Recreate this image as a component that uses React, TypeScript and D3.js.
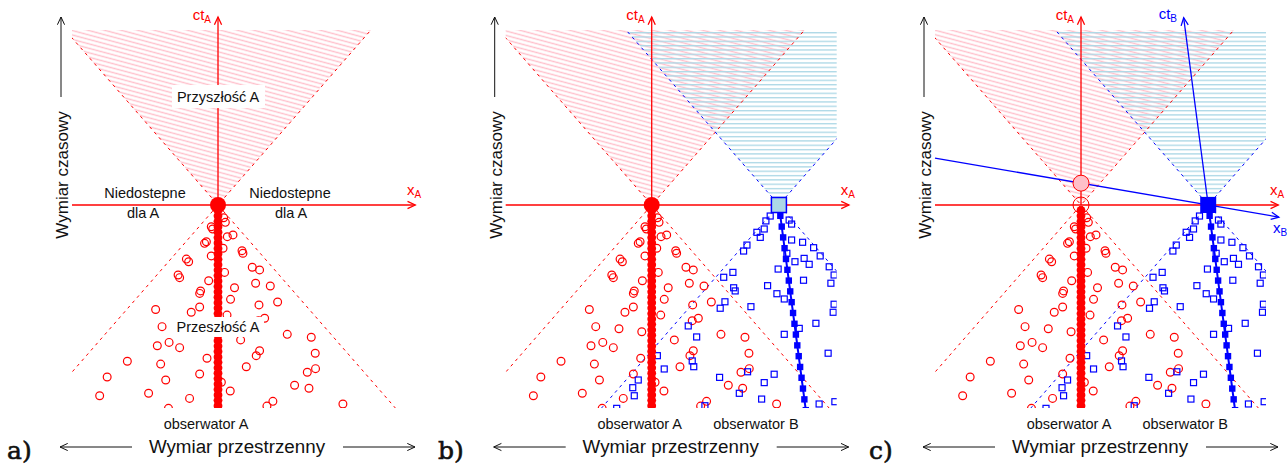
import * as d3 from 'd3'

// data space: x in light-units, t = c*t
const X_DOMAIN = [-0.955, 1.21]
const T_DOMAIN = [-1.16, 1]

// observer B: position at t=0 and velocity (units of c)
const B_X0 = 0.832
const B_V = -0.15
const A_TICK = 0.031
const B_TICK = 0.0617

// past events seen by A (open red circles)
const redX = [-0.044, -0.035, 0.037, 0.048, 0.061, 0.098, -0.088, -0.076, 0.033, -0.044, -0.207, -0.192, -0.261, -0.251, 0.043, -0.061, 0.108, -0.12, -0.114, 0.082, -0.12, -0.408, -0.175, 0.059, -0.366, -0.214, -0.065, -0.32, -0.397, -0.251, -0.072, -0.593, -0.375, -0.12, -0.725, -0.342, -0.774, -0.454, -0.186, 0.022, 0.08, 0.157, 0.163, 0.224, 0.272, 0.246, 0.342, 0.39, 0.268, 0.305, 0.265, 0.148, 0.453, 0.61, 0.272, 0.25, 0.636, 0.185, 0.584, 0.638, 0.501, 0.595, 0.359, 0.32, 0.817, -0.324]
const redT = [-0.124, -0.137, -0.073, -0.099, -0.181, -0.171, -0.219, -0.21, -0.247, -0.291, -0.309, -0.324, -0.4, -0.415, -0.385, -0.433, -0.473, -0.505, -0.491, -0.539, -0.583, -0.597, -0.613, -0.629, -0.695, -0.707, -0.724, -0.785, -0.804, -0.815, -0.876, -0.893, -0.909, -0.966, -0.983, -1.0, -1.09, -1.076, -1.105, -1.013, -1.063, -0.261, -0.276, -0.356, -0.371, -0.447, -0.463, -0.554, -0.571, -0.647, -0.661, -0.771, -0.739, -0.756, -0.833, -0.861, -0.847, -0.924, -0.956, -0.935, -1.03, -1.047, -1.122, -1.149, -1.137, -1.162]

// past events seen by B (open blue squares)
const blueX = [0.775, 0.747, 0.736, 0.688, 0.71, 0.623, 0.601, 0.915, 0.899, 0.915, 0.987, 1.059, 1.102, 0.997, 1.03, 0.937, 0.884, 1.161, 1.193, 1.172, 0.827, 0.993, 0.758, 0.819, 0.867, 0.471, 0.531, 0.536, 0.546, 0.479, 0.649, 0.448, 1.193, 0.239, 0.294, 0.265, 0.275, 0.444, 0.627, 0.801, 0.736, 0.573, 0.719, 0.348, 0.965, 0.867, 1.074, 1.187, 1.154, 1.095, 1.198, 0.037, 0.082, -0.088, -0.124, -0.114, -0.229]
const blueT = [-0.063, -0.091, -0.137, -0.156, -0.185, -0.229, -0.263, -0.109, -0.086, -0.2, -0.213, -0.244, -0.291, -0.305, -0.339, -0.324, -0.276, -0.353, -0.4, -0.447, -0.366, -0.43, -0.461, -0.507, -0.537, -0.413, -0.385, -0.473, -0.491, -0.553, -0.581, -0.59, -0.567, -0.691, -0.754, -0.891, -0.924, -0.985, -0.953, -0.967, -1.015, -1.076, -1.109, -1.147, -0.705, -0.739, -0.676, -0.613, -0.847, -1.137, -1.124, -0.861, -0.937, -1.0, -1.044, -1.09, -1.162]

const PANEL_LABELS = ['a)', 'b)', 'c)']
const PANEL_OX = [218, 651.7, 1081]
const PANEL_LABEL_X = [7, 438, 869]

const RED = '#ff0000'
const BLUE = '#0000ff'
const PINK = '#ffc0cb'
const LIGHTBLUE = '#add8e6'
const SANS = 'Liberation Sans, Arial, Helvetica, sans-serif'

function arrowHead(x1: number, y1: number, x2: number, y2: number, len = 8.5, ang = 25) {
  const a = Math.atan2(y2 - y1, x2 - x1)
  const r = (ang * Math.PI) / 180
  const p1 = [x2 - len * Math.cos(a - r), y2 - len * Math.sin(a - r)]
  const p2 = [x2 - len * Math.cos(a + r), y2 - len * Math.sin(a + r)]
  return `M${p1[0]},${p1[1]}L${x2},${y2}L${p2[0]},${p2[1]}`
}

function Arrow({ x1, y1, x2, y2, color, width = 1.3 }: any) {
  return (
    <g stroke={color} strokeWidth={width} fill="none">
      <line x1={x1} y1={y1} x2={x2} y2={y2} />
      <path d={arrowHead(x1, y1, x2, y2)} />
    </g>
  )
}

function Panel({ idx }: { idx: number }) {
  const ox = PANEL_OX[idx]
  const showB = idx > 0
  const boosted = idx === 2
  const x = d3.scaleLinear().domain(X_DOMAIN).range([ox - 146, ox + 185])
  const t = d3.scaleLinear().domain(T_DOMAIN).range([408, 30])
  const clipId = `clip-${idx}`
  const line = d3.line<[number, number]>().x(d => x(d[0])).y(d => t(d[1]))

  const aTicks = d3.range(1, 40).map(k => -k * A_TICK)
  const bTicks = d3.range(1, 20).map(k => -k * B_TICK)
  const bAt = (tt: number) => B_X0 + B_V * tt

  const redCone: [number, number][] = [[0, 0], [-3, 3], [3, 3]]
  const blueCone: [number, number][] = [[B_X0, 0], [B_X0 - 3, 3], [B_X0 + 3, 3]]

  const y0 = t(0)
  const xAxisEnd = x(1.29)
  const ctTop = t(1.074)

  // B frame axes (panel c): x_B axis is t = v (x - x_B)
  const xbStart: [number, number] = [X_DOMAIN[0], B_V * (X_DOMAIN[0] - B_X0)]
  const xbEnd: [number, number] = [1.294, B_V * (1.294 - B_X0)]
  const ctbEnd: [number, number] = [bAt(1.07), 1.07]
  const simulT = B_V * (0 - B_X0)

  return (
    <g>
      <defs>
        <clipPath id={clipId}>
          <rect x={x(X_DOMAIN[0])} y={t(T_DOMAIN[1])} width={x(X_DOMAIN[1]) - x(X_DOMAIN[0])} height={t(T_DOMAIN[0]) - t(T_DOMAIN[1])} />
        </clipPath>
      </defs>
      <g clipPath={`url(#${clipId})`}>
        <path d={line(redCone) + 'Z'} fill="url(#hatchRed)" />
        {showB && <path d={line(blueCone) + 'Z'} fill="url(#hatchBlue)" />}
        <g stroke={RED} strokeWidth={1} strokeDasharray="3,4" fill="none">
          <path d={line([[-3, -3], [3, 3]]) as string} />
          <path d={line([[3, -3], [-3, 3]]) as string} />
        </g>
        {showB && (
          <g stroke={BLUE} strokeWidth={1} strokeDasharray="3,4" fill="none">
            <path d={line([[B_X0 - 3, -3], [B_X0 + 3, 3]]) as string} />
            <path d={line([[B_X0 + 3, -3], [B_X0 - 3, 3]]) as string} />
          </g>
        )}
        {redX.map((v, i) => (
          <circle key={`r${i}`} cx={x(v)} cy={t(redT[i])} r={3.9} fill="none" stroke={RED} strokeWidth={1.2} />
        ))}
        {showB && blueX.map((v, i) => (
          <rect key={`b${i}`} x={x(v) - 3} y={t(blueT[i]) - 3} width={6} height={6} fill="none" stroke={BLUE} strokeWidth={1.2} />
        ))}
        {aTicks.map((v, i) => (
          <circle key={`wa${i}`} cx={x(0)} cy={t(v)} r={4.4} fill={RED} />
        ))}
        {showB && (
          <g>
            <path d={line([[B_X0, 0], [bAt(-1.3), -1.3]]) as string} stroke={BLUE} strokeWidth={2} fill="none" />
            {bTicks.map((v, i) => (
              <rect key={`wb${i}`} x={x(bAt(v)) - 3.2} y={t(v) - 3.2} width={6.4} height={6.4} fill={BLUE} />
            ))}
          </g>
        )}
      </g>

      {/* frame of A */}
      <Arrow x1={x(X_DOMAIN[0])} y1={y0} x2={xAxisEnd} y2={y0} color={RED} />
      <Arrow x1={x(0)} y1={y0} x2={x(0)} y2={ctTop} color={RED} />
      <text x={ox - 7} y={20} textAnchor="end" fill={RED} fontFamily={SANS} fontSize={15}>
        ct<tspan fontSize={10} dy={3}>A</tspan>
      </text>
      <text x={ox + 189} y={195} fill={RED} fontFamily={SANS} fontSize={15}>
        x<tspan fontSize={10} dy={3}>A</tspan>
      </text>

      {/* frame of B */}
      {boosted && (
        <g>
          <Arrow x1={x(xbStart[0])} y1={t(xbStart[1])} x2={x(xbEnd[0])} y2={t(xbEnd[1])} color={BLUE} />
          <Arrow x1={x(B_X0)} y1={y0} x2={x(ctbEnd[0])} y2={t(ctbEnd[1])} color={BLUE} />
          <text x={x(ctbEnd[0]) - 25} y={19} fill={BLUE} fontFamily={SANS} fontSize={15}>
            ct<tspan fontSize={10} dy={3}>B</tspan>
          </text>
          <text x={ox + 192} y={233} fill={BLUE} fontFamily={SANS} fontSize={15}>
            x<tspan fontSize={10} dy={3}>B</tspan>
          </text>
        </g>
      )}

      {/* current events */}
      {!boosted && <circle cx={x(0)} cy={y0} r={8} fill={RED} />}
      {boosted && (
        <g>
          <circle cx={x(0)} cy={y0} r={8} fill="none" stroke={RED} strokeWidth={1} />
          <circle cx={x(0)} cy={t(simulT)} r={8} fill="#ffbfc8" stroke={RED} strokeWidth={1} />
        </g>
      )}
      {idx === 1 && <rect x={x(B_X0) - 7.5} y={y0 - 7.5} width={15} height={15} fill={LIGHTBLUE} stroke={BLUE} strokeWidth={1.5} />}
      {boosted && <rect x={x(B_X0) - 8} y={y0 - 8} width={16} height={16} fill={BLUE} />}

      {/* region labels (panel a) */}
      {idx === 0 && (
        <g fontFamily={SANS} fontSize={14.5} fill="#111" textAnchor="middle">
          <rect x={ox - 46} y={t(0.617) - 12} width={93} height={23} fill="white" />
          <text x={ox} y={t(0.617) + 5}>Przyszłość A</text>
          <rect x={ox - 46} y={t(-0.697) - 10} width={92} height={20} fill="white" />
          <text x={ox} y={t(-0.697) + 5}>Przeszłość A</text>
          <text x={ox - 73} y={198}>Niedostepne</text>
          <text x={ox - 75} y={218}>dla A</text>
          <text x={ox + 72} y={198}>Niedostepne</text>
          <text x={ox + 73} y={218}>dla A</text>
        </g>
      )}

      {/* observer names */}
      <text x={ox - 12} y={429} textAnchor="middle" fontFamily={SANS} fontSize={14.5} fill="#111">obserwator A</text>
      {showB && (
        <text x={x(B_X0) - 23} y={429} textAnchor="middle" fontFamily={SANS} fontSize={14.5} fill="#111">obserwator B</text>
      )}

      {/* dimension arrows */}
      <Arrow x1={ox - 86} y1={447} x2={ox - 158} y2={447} color="#111" width={1} />
      <Arrow x1={ox + 125} y1={447} x2={ox + 197} y2={447} color="#111" width={1} />
      <text x={ox + 19} y={453} textAnchor="middle" fontFamily={SANS} fontSize={18.8} fill="#111">Wymiar przestrzenny</text>
      <Arrow x1={ox - 157} y1={97} x2={ox - 157} y2={17} color="#111" width={1} />
      <text transform={`translate(${ox - 150},175) rotate(-90)`} textAnchor="middle" fontFamily={SANS} fontSize={17} fill="#111">Wymiar czasowy</text>

      <text x={PANEL_LABEL_X[idx]} y={459} fontFamily="DejaVu Serif, Liberation Serif, serif" fontSize={25} fill="#111" stroke="#111" strokeWidth={0.6}>{PANEL_LABELS[idx]}</text>
    </g>
  )
}

export default function App() {
  return (
    <svg width={1287} height={468} style={{ position: 'absolute', left: 0, top: 0, background: 'white' }}>
      <defs>
        <pattern id="hatchRed" patternUnits="userSpaceOnUse" width={12} height={4.3} patternTransform="rotate(15)">
          <line x1={0} y1={2.15} x2={12} y2={2.15} stroke={PINK} strokeWidth={1.4} />
        </pattern>
        <pattern id="hatchBlue" patternUnits="userSpaceOnUse" width={12} height={4.33} y={32}>
          <line x1={0} y1={0.6} x2={12} y2={0.6} stroke={LIGHTBLUE} strokeWidth={1.5} />
        </pattern>
      </defs>
      <rect width={1287} height={468} fill="white" />
      {PANEL_OX.map((_, i) => (
        <Panel key={i} idx={i} />
      ))}
    </svg>
  )
}
